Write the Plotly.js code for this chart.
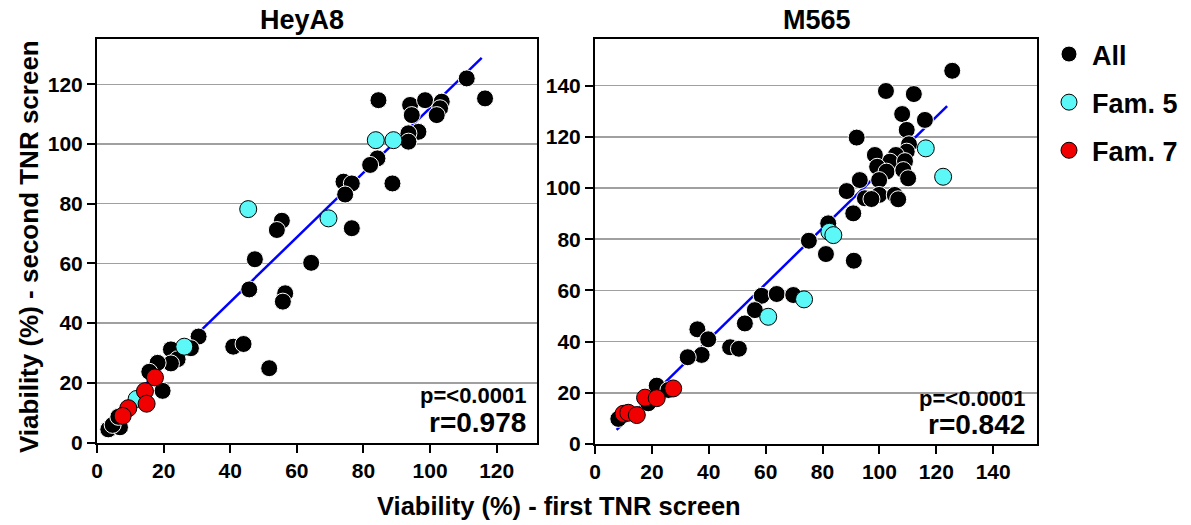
<!DOCTYPE html>
<html><head><meta charset="utf-8">
<script src="https://cdn.plot.ly/plotly-3.0.1.min.js"></script>
<style>html,body{margin:0;padding:0;background:#fff}</style>
</head><body><div id="chart" style="width:1191px;height:525px"></div>
<script>
// HeyA8 panel
const heyAllX = [111,116.5,84.5,94,98.5,103.5,103,102,94.5,96.5, 93.5,93.5,84.2,82,88.7,74,76.5,74.5,55.5,54, 76.5,47.4,64.3,45.7,56.5,55.8,30.5,40.9,44,51.7, 22.2,28.2,24.2,22.2,18.2,15.7,19.7,3.4,6.9,4.7, 6.4];
const heyAllY = [122,115.3,114.7,113.1,114.7,114.2,112,109.7,109.7,104.1, 103.6,100.8,95.2,93,86.8,87.4,86.8,83.1,74.3,71.2, 71.8,61.4,60.2,51.3,50,47.2,35.5,32.1,33,24.9, 31.2,31.6,27.9,26.5,26.7,23.7,17.3,4.4,5.1,5.9, 8.6];
const heyF5X = [45.4,69.5,83.7,89,26.2,11.9];
const heyF5Y = [78.2,75.1,101.3,101.3,32.1,14.6];
const heyF7X = [17.4,14.4,14.9,9.4,7.7];
const heyF7Y = [21.8,17.2,13,11.5,8.9];
const heyFitX = [4,115.5];
const heyFitY = [8.1,128.9];
const heyStats = ['p=<0.0001','r=0.978'];

// M565 panel
const m565AllX = [125.6,102.3,112.1,108,116,109.6,92,110.4,109.6,105.8, 103.7,109,98.4,99.2,102.5,108.4,110.1,99.9,93.1,88.5, 94.9,99.9,105.4,106.6,97.2,90.8,82,75.2,81.2,91, 58.6,63.9,69.7,56.2,52.7,36,39.8,47.5,50.6,37.5, 32.6,21.7,25.8,18.7,8.2];
const m565AllY = [145.8,137.9,136.7,128.9,126.6,122.7,119.7,117.1,114.2,112.9, 110.3,110.5,112.9,108.3,106.4,107,103.8,103.1,103.1,98.8, 96,97.3,97.3,95.6,95.7,90.1,86.2,79.4,74.2,71.6, 57.9,58.6,58.2,52.3,47.1,44.8,40.9,37.8,37.2,34.8, 33.9,22.8,21.1,15.9,9.8];
const m565F5X = [116.3,122.4,82.4,83.8,60.9,73.5];
const m565F5Y = [115.5,104.4,82.9,81.6,49.7,56.5];
const m565F7X = [17.6,21.7,27.5,10,11.7,14.7];
const m565F7Y = [18.1,17.9,21.7,11.8,12.2,11.3];
const m565FitX = [7.6,123.8];
const m565FitY = [5.5,132];
const m565Stats = ['p=<0.0001','r=0.842'];

const panelTitles = ['HeyA8','M565'];
const seriesNames = ['All','Fam. 5','Fam. 7'];
const xTitle = 'Viability (%) - first TNR screen';
const yTitle = 'Viability (%) - second TNR screen';
const leftTicks = [0,20,40,60,80,100,120];
const rightTicks = [0,20,40,60,80,100,120,140];

const FONT = 'Liberation Sans, Arial, sans-serif';
const W = 1191, H = 525;
const px = v => v / W;
const py = v => 1 - v / H;

const styles = [
  {color:'#000000', line:{color:'#ffffff', width:1}},
  {color:'#5cf7f7', line:{color:'#000000', width:1}},
  {color:'#f00000', line:{color:'#000000', width:1}}
];

function panel(xa, ya, fitX, fitY, sets, show) {
  const tr = [{
    x: fitX, y: fitY, xaxis: xa, yaxis: ya, type:'scatter', mode:'lines',
    line:{color:'#0000ff', width:2.5}, showlegend:false, hoverinfo:'skip'
  }];
  sets.forEach((s, i) => {
    tr.push({
      x: s[0], y: s[1], xaxis: xa, yaxis: ya, type:'scatter', mode:'markers',
      name: seriesNames[i], legendgroup: 'g' + i, showlegend: show,
      marker: Object.assign({size:17}, styles[i])
    });
  });
  return tr;
}

const data = [].concat(
  panel('x','y', heyFitX, heyFitY, [[heyAllX,heyAllY],[heyF5X,heyF5Y],[heyF7X,heyF7Y]], true),
  panel('x2','y2', m565FitX, m565FitY, [[m565AllX,m565AllY],[m565F5X,m565F5Y],[m565F7X,m565F7Y]], false)
);

function xax(domain, range, ticks, anchor) {
  return {domain, range, tickvals: ticks, anchor, showgrid:false, zeroline:false,
    showline:true, linecolor:'#000', linewidth:2, mirror:true,
    ticks:'outside', ticklen:8, tickwidth:2, tickcolor:'#000',
    tickfont:{family:FONT, size:21, color:'#000', weight:'bold'}, fixedrange:true};
}
function yax(domain, range, ticks, anchor) {
  return {domain, range, tickvals: ticks, anchor, showgrid:true, gridcolor:'#a0a0a0', gridwidth:1.5,
    zeroline:false, showline:true, linecolor:'#000', linewidth:2, mirror:true,
    ticks:'outside', ticklen:8, tickwidth:2, tickcolor:'#000',
    tickfont:{family:FONT, size:21, color:'#000', weight:'bold'}, fixedrange:true};
}

const ann = [];
const bold = (s, sz) => ({family:FONT, size:sz, color:'#000', weight:'bold'});
ann.push({text: panelTitles[0], x: px(302), y: py(20), xref:'paper', yref:'paper', showarrow:false, xanchor:'center', yanchor:'middle', font: bold('',27)});
ann.push({text: panelTitles[1], x: px(817), y: py(20), xref:'paper', yref:'paper', showarrow:false, xanchor:'center', yanchor:'middle', font: bold('',27)});
ann.push({text: xTitle, x: px(559), y: py(506), xref:'paper', yref:'paper', showarrow:false, xanchor:'center', yanchor:'middle', font: bold('',25.5)});
ann.push({text: yTitle, x: px(29), y: py(247), xref:'paper', yref:'paper', showarrow:false, textangle:-90, xanchor:'center', yanchor:'middle', font: bold('',26)});
ann.push({text: heyStats[0], x: px(528), y: py(395), xref:'paper', yref:'paper', showarrow:false, xanchor:'right', yanchor:'middle', font: bold('',22)});
ann.push({text: heyStats[1], x: px(528), y: py(422), xref:'paper', yref:'paper', showarrow:false, xanchor:'right', yanchor:'middle', font: bold('',28)});
ann.push({text: m565Stats[0], x: px(1027), y: py(398), xref:'paper', yref:'paper', showarrow:false, xanchor:'right', yanchor:'middle', font: bold('',22)});
ann.push({text: m565Stats[1], x: px(1027), y: py(424), xref:'paper', yref:'paper', showarrow:false, xanchor:'right', yanchor:'middle', font: bold('',28)});

const layout = {
  width: W, height: H,
  margin:{l:0, r:0, t:0, b:0},
  paper_bgcolor:'#fff', plot_bgcolor:'#fff',
  showlegend:true,
  legend:{x: px(1046), y: py(30), xanchor:'left', yanchor:'top', font: bold('',27),
    tracegroupgap: 10, itemwidth: 36, bgcolor:'rgba(0,0,0,0)', itemclick:false, itemdoubleclick:false},
  xaxis: xax([px(97), px(537)], [0,132.1], leftTicks, 'y'),
  yaxis: yax([1 - 442.5/H, 1 - 39.3/H], [0,135.1], leftTicks, 'x'),
  xaxis2: xax([px(595), px(1036.7)], [0,155.3], rightTicks, 'y2'),
  yaxis2: yax([1 - 444/H, 1 - 39.3/H], [0,158.1], rightTicks, 'x2'),
  annotations: ann
};

Plotly.newPlot('chart', data, layout, {displayModeBar:false, staticPlot:true});
</script>
</body></html>
